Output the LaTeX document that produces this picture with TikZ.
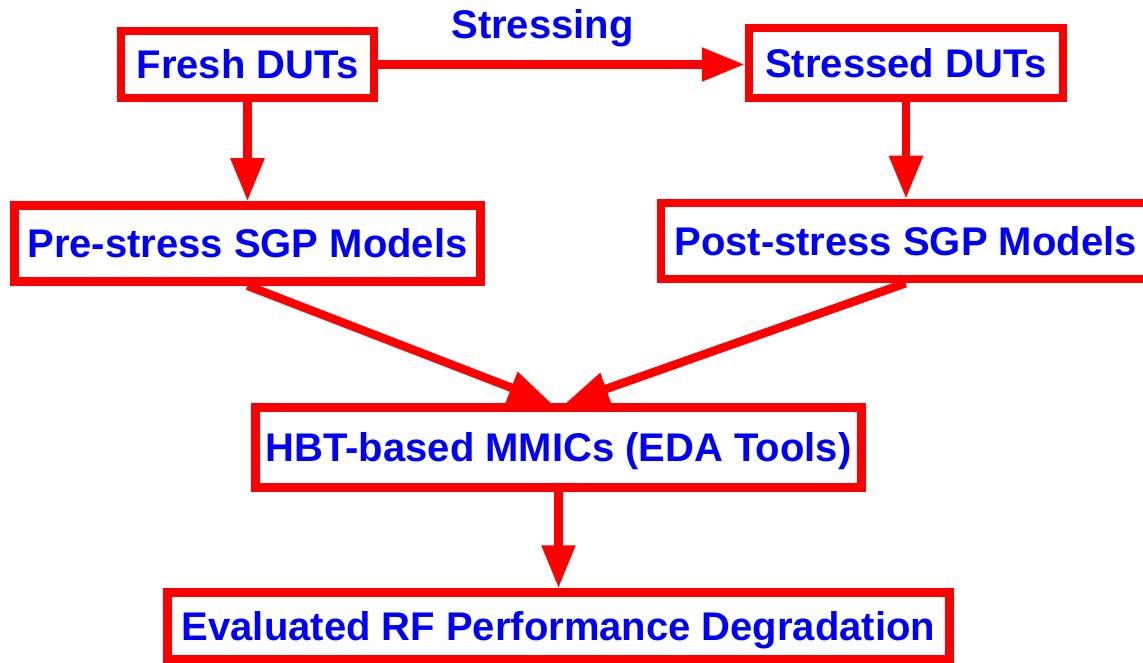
\documentclass[tikz,border=0pt]{standalone}
\usepackage{fontspec}
\setmainfont{Liberation Sans}
\usetikzlibrary{arrows.meta}

\begin{document}
\begin{tikzpicture}[x=1pt, y=-1pt,
	every node/.style={font=\fontsize{40}{48}\selectfont\bfseries, text=blue},
	box/.style={draw=red, line width=8.5pt, fill=white, inner sep=0pt, text height=28.6pt, text depth=0pt},
	flow/.style={->, draw=red, fill=red, line width=8.5pt},
	>={Triangle[length=43pt, width=32pt]}]
	\useasboundingbox (0,0) rectangle (1143,663);
	\node[box, minimum width=253pt, minimum height=67pt] (fresh) at (247.5,64.5) {Fresh DUTs};
	\node[box, minimum width=314pt, minimum height=70pt] (stressed) at (906,63) {Stressed DUTs};
	\node[box, minimum width=466pt, minimum height=76pt] (pre) at (247.5,243.5) {Pre-stress SGP Models};
	\node[box, minimum width=489pt, minimum height=76pt] (post) at (905.5,241) {Post-stress SGP Models};
	\node[box, minimum width=606pt, minimum height=80pt] (hbt) at (558.5,447.5) {HBT-based MMICs (EDA Tools)};
	\node[box, minimum width=782pt, minimum height=66.5pt] (eval) at (558.5,625.75) {Evaluated RF Performance Degradation};
	\draw[flow] (fresh.east) -- (fresh.east -| stressed.west);
	\node[anchor=base] (stressing) at (542.5,39) {Stressing};
	\draw[flow] (fresh.south) -- (pre.north);
	\draw[flow] (stressed.south) -- (stressed.south |- post.north);
	\draw[flow] (pre.south) -- ([xshift=-7pt]hbt.north);
	\draw[flow] (post.south) -- ([xshift=7pt]hbt.north);
	\draw[flow] (hbt.south) -- (eval.north);
\end{tikzpicture}
\end{document}
